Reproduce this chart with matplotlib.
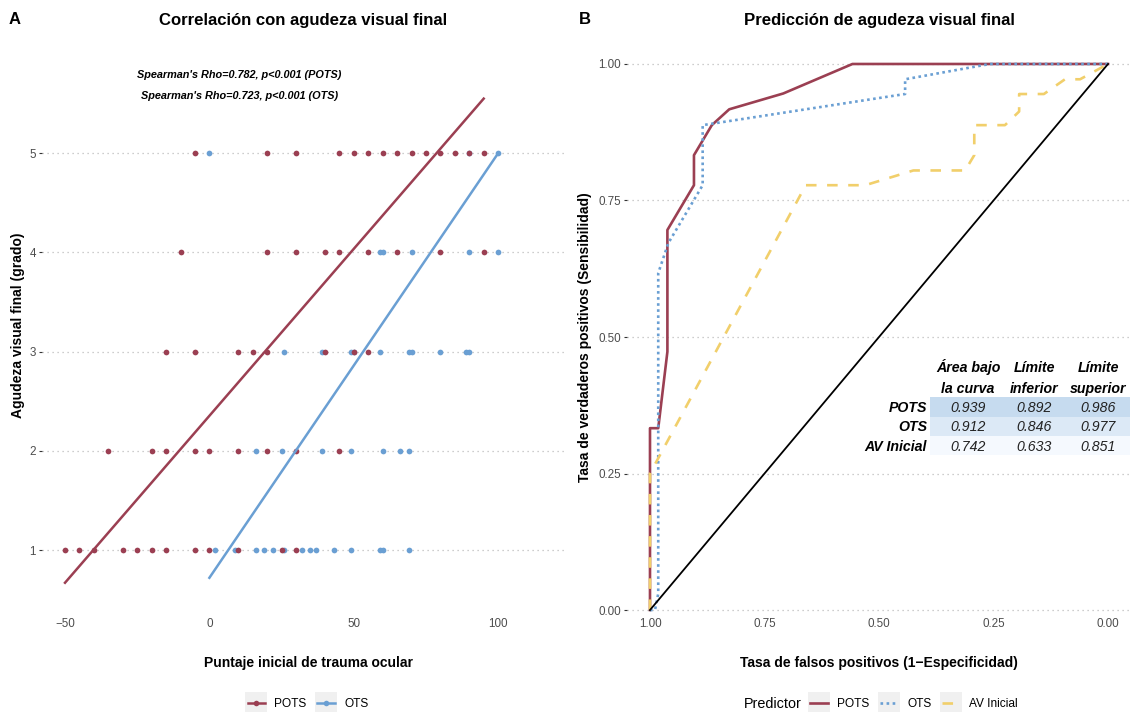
import numpy as np
import matplotlib
matplotlib.use('Agg')
import matplotlib.pyplot as plt
from matplotlib.lines import Line2D
from matplotlib.patches import Rectangle

plt.rcParams['font.family'] = ['Liberation Sans', 'DejaVu Sans']

# Panel A : puntaje inicial por grado de agudeza visual final
pots_av5 = [-5, 20, 30, 45, 50, 55, 60, 65, 70, 75, 80, 85, 90, 95]
pots_av4 = [-10, 20, 30, 40, 45, 55, 65, 80, 95]
pots_av3 = [-15, -5, 10, 15, 20, 40, 50, 55]
pots_av2 = [-35, -20, -15, -5, 0, 10, 20, 30, 45]
pots_av1 = [-50, -45, -40, -30, -25, -20, -15, -5, 0, 10, 25, 30]
ots_av5 = [0, 90, 100]
ots_av4 = [59, 60, 70, 90, 100]
ots_av3 = [26, 39, 49, 50, 59, 69, 70, 80, 89, 90]
ots_av2 = [16, 25, 39, 49, 60, 66, 69]
ots_av1 = [2, 9, 16, 19, 22, 26, 32, 35, 37, 43, 49, 59, 60, 69]

# recta lineal (intercepto, pendiente)
pots_fit = [2.353, 0.03366]
ots_fit = [0.72, 0.0428]

rho_pots = "Spearman's Rho=0.782, p<0.001 (POTS)"
rho_ots = "Spearman's Rho=0.723, p<0.001 (OTS)"

# Panel B : curvas ROC (1 - especificidad, sensibilidad)
pots_fpr = [0, 0, 0.018, 0.038, 0.038, 0.096, 0.096, 0.135, 0.173, 0.291, 0.442, 1.0]
pots_sens = [0, 0.333, 0.333, 0.473, 0.696, 0.778, 0.833, 0.888, 0.917, 0.946, 1.0, 1.0]
ots_fpr = [0, 0.011, 0.018, 0.018, 0.040, 0.115, 0.115, 0.557, 0.557, 0.742, 1.0]
ots_sens = [0, 0, 0.03, 0.617, 0.672, 0.778, 0.888, 0.945, 0.972, 1.0, 1.0]
av_fpr = [0, 0, 0.34, 0.47, 0.575, 0.688, 0.708, 0.708, 0.775, 0.806, 0.806, 0.86, 0.906, 0.939, 1.0]
av_sens = [0, 0.25, 0.778, 0.778, 0.805, 0.805, 0.833, 0.888, 0.888, 0.913, 0.945, 0.945, 0.972, 0.972, 1.0]

predictores = ['POTS', 'OTS', 'AV Inicial']
auc = ['0.939', '0.912', '0.742']
lim_inf = ['0.892', '0.846', '0.633']
lim_sup = ['0.986', '0.977', '0.851']
cabecera = [['Área bajo', 'la curva'], ['Límite', 'inferior'], ['Límite', 'superior']]

rojo = '#9B3F52'
azul = '#6A9FD3'
amarillo = '#F1CF6B'
gris = '#4D4D4D'

W, H = 1130, 712
def fx(x):
    return x / W
def fy(y):
    return 1 - y / H

fig = plt.figure(figsize=(W / 100, H / 100), dpi=100)

# ---------- Panel A ----------
ax1 = fig.add_axes([fx(42), fy(614), (566 - 42) / W, (614 - 60) / H])
grados = [5, 4, 3, 2, 1]
pots_list = [pots_av5, pots_av4, pots_av3, pots_av2, pots_av1]
ots_list = [ots_av5, ots_av4, ots_av3, ots_av2, ots_av1]
pots_x = np.concatenate(pots_list)
pots_y = np.concatenate([[g] * len(v) for g, v in zip(grados, pots_list)])
ots_x = np.concatenate(ots_list)
ots_y = np.concatenate([[g] * len(v) for g, v in zip(grados, ots_list)])

ax1.scatter(ots_x, ots_y, s=17, color=azul, linewidths=0, zorder=3)
ax1.scatter(pots_x, pots_y, s=17, color=rojo, linewidths=0, zorder=3)

xx = np.array([pots_x.min(), pots_x.max()])
ax1.plot(xx, pots_fit[0] + pots_fit[1] * xx, color=rojo, lw=1.8, zorder=4)
xx = np.array([ots_x.min(), ots_x.max()])
ax1.plot(xx, ots_fit[0] + ots_fit[1] * xx, color=azul, lw=1.8, zorder=4)

ax1.set_xlim(-57.97, 123.5)
ax1.set_ylim(0.355, 5.94)
ax1.set_xticks([-50, 0, 50, 100])
ax1.set_yticks([1, 2, 3, 4, 5])
ax1.text(10.3, 5.79, rho_pots, ha='center', va='center', fontsize=7.8,
         fontweight='bold', fontstyle='italic')
ax1.text(10.3, 5.58, rho_ots, ha='center', va='center', fontsize=7.8,
         fontweight='bold', fontstyle='italic')

# ---------- Panel B ----------
ax2 = fig.add_axes([fx(627), fy(614), (1130 - 627) / W, (614 - 60) / H])
ax2.plot(1 - np.array(pots_fpr), pots_sens, color=rojo, lw=1.9, zorder=3)
ax2.plot(1 - np.array(ots_fpr), ots_sens, color=azul, lw=1.9,
         linestyle=(0, (1, 1.3)), zorder=4)
ax2.plot(1 - np.array(av_fpr), av_sens, color=amarillo, lw=1.9,
         linestyle=(0, (4, 4)), zorder=5)
ax2.plot([1, 0], [0, 1], color='black', lw=1.3, zorder=6)
ax2.set_xlim(1.0502, -0.048)
ax2.set_ylim(-0.0073, 1.0073)
ax2.set_xticks([1, 0.75, 0.5, 0.25, 0])
ax2.set_xticklabels(['1.00', '0.75', '0.50', '0.25', '0.00'])
ax2.set_yticks([0, 0.25, 0.5, 0.75, 1])
ax2.set_yticklabels(['0.00', '0.25', '0.50', '0.75', '1.00'])

for ax in (ax1, ax2):
    for s in ax.spines.values():
        s.set_visible(False)
    ax.yaxis.grid(True, linestyle=(0, (1, 3)), color='#BDBDBD', lw=0.9)
    ax.xaxis.grid(False)
    ax.set_axisbelow(True)
    ax.tick_params(axis='x', length=0, labelsize=8.4, labelcolor=gris, pad=3)
    ax.tick_params(axis='y', length=2.5, color='#333333', labelsize=8.4,
                   labelcolor=gris, pad=2)

# titulos y etiquetas
fig.text(fx(15), fy(20), 'A', fontsize=12, fontweight='bold', ha='center', va='center')
fig.text(fx(585), fy(20), 'B', fontsize=12, fontweight='bold', ha='center', va='center')
fig.text(fx(303), fy(21), 'Correlación con agudeza visual final', fontsize=12.1,
         fontweight='bold', ha='center', va='center')
fig.text(fx(879), fy(21), 'Predicción de agudeza visual final', fontsize=12.1,
         fontweight='bold', ha='center', va='center')
fig.text(fx(309), fy(663), 'Puntaje inicial de trauma ocular', fontsize=10,
         fontweight='bold', ha='center', va='center')
fig.text(fx(879), fy(663), 'Tasa de falsos positivos (1−Especificidad)', fontsize=10,
         fontweight='bold', ha='center', va='center')
fig.text(fx(18), fy(325), 'Agudeza visual final (grado)', fontsize=10,
         fontweight='bold', ha='center', va='center', rotation=90)
fig.text(fx(585), fy(337), 'Tasa de verdaderos positivos (Sensibilidad)', fontsize=10,
         fontweight='bold', ha='center', va='center', rotation=90)

# tabla AUC
fondos = ['#C6DBEF', '#DCE9F6', '#F5F9FE']
col_x = [968, 1034, 1098]
base_filas = [412, 431.3, 450.7]
for i, pred in enumerate(predictores):
    y0 = 397.3 + i * 19.3
    fig.add_artist(Rectangle((fx(930), fy(y0 + 19.3)), (1130 - 930) / W, 19.3 / H,
                             transform=fig.transFigure, facecolor=fondos[i],
                             edgecolor='none', zorder=1))
    yb = base_filas[i]
    fig.text(fx(927), fy(yb), pred, fontsize=10.2, fontweight='bold', fontstyle='italic',
             ha='right', va='baseline', zorder=2)
    for cx, val in zip(col_x, [auc[i], lim_inf[i], lim_sup[i]]):
        fig.text(fx(cx), fy(yb), val, fontsize=10.2, fontstyle='italic',
                 ha='center', va='baseline', color='#222222', zorder=2)
for cx, (l1, l2) in zip(col_x, cabecera):
    fig.text(fx(cx), fy(371.7), l1, fontsize=10.2, fontweight='bold', fontstyle='italic',
             ha='center', va='baseline')
    fig.text(fx(cx), fy(392.7), l2, fontsize=10.2, fontweight='bold', fontstyle='italic',
             ha='center', va='baseline')

# leyendas
h1 = [Line2D([], [], color=rojo, lw=1.8, marker='o', ms=4, mew=0),
      Line2D([], [], color=azul, lw=1.8, marker='o', ms=4, mew=0)]
leg1 = fig.legend(h1, ['POTS', 'OTS'], loc='center', bbox_to_anchor=(fx(308), fy(704)),
                  ncol=2, frameon=False, fontsize=8.6, handlelength=1.5,
                  handletextpad=0.75, columnspacing=0.9)
h2 = [Line2D([], [], color=rojo, lw=1.9),
      Line2D([], [], color=azul, lw=1.9, linestyle=(0, (1, 1.3))),
      Line2D([], [], color=amarillo, lw=1.9, linestyle=(0, (4, 4)))]
leg2 = fig.legend(h2, predictores, loc='center', bbox_to_anchor=(fx(914), fy(704)),
                  ncol=3, frameon=False, fontsize=8.6, handlelength=1.5,
                  handletextpad=0.75, columnspacing=0.9)
fig.text(fx(773), fy(704), 'Predictor', fontsize=10.4, ha='center', va='center')

fig.canvas.draw()
r = fig.canvas.get_renderer()
for leg in (leg1, leg2):
    for h in leg.legend_handles:
        bb = h.get_window_extent(r)
        cx = (bb.x0 + bb.x1) / 2
        cy = (bb.y0 + bb.y1) / 2
        fig.add_artist(Rectangle(((cx - 11) / W, (cy - 11) / H), 22 / W, 22 / H,
                                 transform=fig.transFigure, facecolor='#F0F0F0',
                                 edgecolor='none', zorder=1))

fig.savefig('out.png', dpi=100)
